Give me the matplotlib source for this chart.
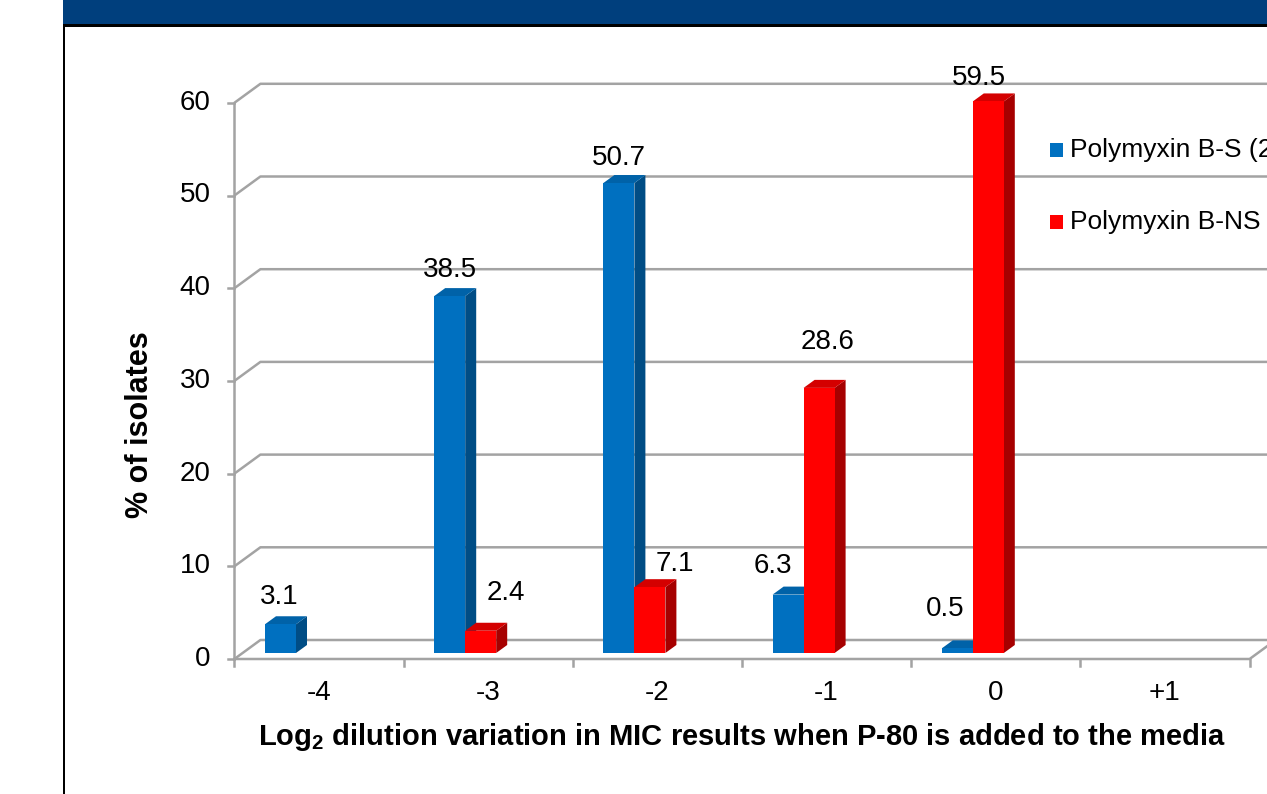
import matplotlib
matplotlib.use("Agg")
import matplotlib.pyplot as plt
from matplotlib.patches import Rectangle, Polygon

plt.rcParams['font.family'] = ['Liberation Sans', 'DejaVu Sans']
plt.rcParams['mathtext.fontset'] = 'custom'
plt.rcParams['mathtext.rm'] = 'Liberation Sans'
plt.rcParams['mathtext.bf'] = 'Liberation Sans:bold'

# data
categories = ['-4', '-3', '-2', '-1', '0', '+1']
susceptible = [3.1, 38.5, 50.7, 6.3, 0.5, None]
non_susceptible = [None, 2.4, 7.1, 28.6, 59.5, None]
yticks = [0, 10, 20, 30, 40, 50, 60]
series_names = ['Polymyxin B-S (2', 'Polymyxin B-NS']

W, H = 1267, 794
fig = plt.figure(figsize=(W / 100, H / 100), dpi=100)
ax = fig.add_axes([0, 0, 1, 1])
ax.axis('off')

# pixel scales
px_cat = 169.2     # px per category
px_val = 9.27      # px per %
x0_px = 319        # centre of first category
y0_px = 659        # floor line (from top)
ax.set_xlim(-x0_px / px_cat, (W - x0_px) / px_cat)
ax.set_ylim(-(H - y0_px) / px_val, y0_px / px_val)

def dxp(p):
    return p / px_cat

def dyp(p):
    return p / px_val

grid_c = '#a3a3a3'
lw = 1.8
fs = 20
ddx, ddy = dxp(26), dyp(19)      # depth of chart
xl = -0.5
xr = len(categories) - 0.5
xmax = ax.get_xlim()[1]

# back wall gridlines
for v in yticks:
    ax.plot([xl, xl + ddx, xmax + 1], [v, v + ddy, v + ddy], color=grid_c, lw=lw,
            solid_capstyle='butt', zorder=1)
    ax.plot([xl - dxp(6), xl], [v, v], color=grid_c, lw=lw, zorder=1)
    ax.text(xl - dxp(24), v, str(v), ha='right', va='center', fontsize=fs)
# floor
ax.plot([xl, xr, xr + ddx], [0, 0, ddy], color=grid_c, lw=lw, zorder=1)
ax.plot([xl, xl], [0, yticks[-1]], color=grid_c, lw=lw, zorder=1)
for k in range(len(categories) + 1):
    ax.plot([xl + k, xl + k], [0, -dyp(7)], color=grid_c, lw=lw, zorder=1)
for i, c in enumerate(categories):
    ax.text(i, -dyp(34), c, ha='center', va='center', fontsize=fs)

# 3D bars
bw = dxp(31)
sdx, sdy = dxp(11), dyp(8)
base = dyp(6)
blue = ('#0070c0', '#004d85', '#0062a8')
red = ('#ff0000', '#a60000', '#d40000')

def bar3d(x, h, cols):
    front, side, top = cols
    y1 = base + h
    ax.add_patch(Polygon([(x + bw, base), (x + bw + sdx, base + sdy),
                          (x + bw + sdx, y1 + sdy), (x + bw, y1)],
                         closed=True, fc=side, ec='none', zorder=3))
    ax.add_patch(Polygon([(x, y1), (x + sdx, y1 + sdy), (x + bw + sdx, y1 + sdy),
                          (x + bw, y1)], closed=True, fc=top, ec='none', zorder=3))
    ax.add_patch(Rectangle((x, base), bw, h, fc=front, ec='none', zorder=4))

# label offsets in px (dx from bar centre, dy above bar top)
s_off = [(-1, 27), (0, 26), (0, 25), (-15, 29), (-12, 39), (0, 0)]
ns_off = [(0, 0), (25, 38), (25, 23), (8, 46), (-9, 23), (0, 0)]

for i in range(len(categories)):
    xb = i - dxp(54)
    xr_ = i - dxp(23)
    if susceptible[i] is not None:
        bar3d(xb, susceptible[i], blue)
        ox, oy = s_off[i]
        ax.text(xb + bw / 2 + dxp(ox), base + susceptible[i] + dyp(oy),
                f'{susceptible[i]:.1f}', ha='center', va='center', fontsize=fs, zorder=6)
    if non_susceptible[i] is not None:
        bar3d(xr_, non_susceptible[i], red)
        ox, oy = ns_off[i]
        ax.text(xr_ + bw / 2 + dxp(ox), base + non_susceptible[i] + dyp(oy),
                f'{non_susceptible[i]:.1f}', ha='center', va='center', fontsize=fs, zorder=6)

# axis titles
fig.text(140 / W, 1 - 425 / H, '% of isolates', rotation=90, ha='center', va='center',
         fontsize=22, fontweight='bold')
fig.text(742 / W, 1 - 737 / H,
         r'Log$_\mathbf{2}$ dilution variation in MIC results when P-80 is added to the media',
         ha='center', va='center', fontsize=21, fontweight='bold')

# legend
for j, (name, col) in enumerate(zip(series_names, [blue[0], red[0]])):
    yc = 150 + 72 * j
    fig.patches.append(Rectangle((1050 / W, 1 - (yc + 7) / H), 13 / W, 14 / H,
                                 transform=fig.transFigure, fc=col, ec='none'))
    fig.text(1070 / W, 1 - yc / H, name, ha='left', va='center', fontsize=19)

# slide banner and frame
fig.patches.append(Rectangle((63 / W, 1 - 24 / H), 1, 24 / H, transform=fig.transFigure,
                             fc='#003f7d', ec='none'))
fig.patches.append(Rectangle((63 / W, 1 - 27 / H), 1, 3 / H, transform=fig.transFigure,
                             fc='black', ec='none'))
fig.patches.append(Rectangle((63 / W, 0), 2 / W, 1 - 27 / H, transform=fig.transFigure,
                             fc='black', ec='none'))

fig.savefig('out.png', dpi=100)
